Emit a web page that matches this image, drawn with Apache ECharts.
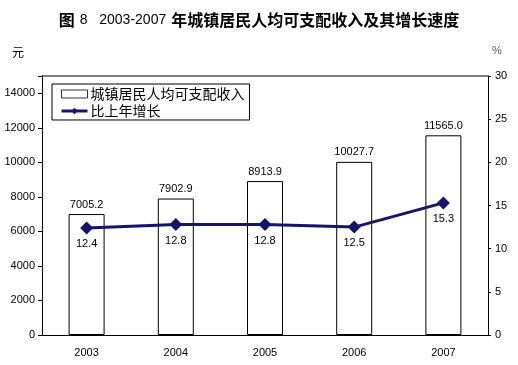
<!DOCTYPE html>
<html><head><meta charset="utf-8">
<script src="https://cdn.jsdelivr.net/npm/echarts@6/dist/echarts.min.js"></script>
<style>html,body{margin:0;padding:0;background:#fff}#c{width:518px;height:365px}</style>
</head><body><div id="c"></div>
<script>
const years = ['2003','2004','2005','2006','2007'];
const income = [7005.2, 7902.9, 8913.9, 10027.7, 11565.0];
const growth = [12.4, 12.8, 12.8, 12.5, 15.3];
const incomeName = '城镇居民人均可支配收入';
const growthName = '比上年增长';

const chart = echarts.init(document.getElementById('c'));
const F = 'Liberation Sans, Arial, sans-serif';
chart.setOption({
  animation: false,
  backgroundColor: '#fff',
  title: {
    text: '{b|图} {n|8   2003-2007} {b|年城镇居民人均可支配收入及其增长速度}',
    left: 'center', top: 6,
    textStyle: {
      rich: {
        b: {fontSize: 16, fontWeight: 'bold', fontFamily: 'Noto Sans CJK SC', color: '#000'},
        n: {fontSize: 14, fontWeight: 'normal', fontFamily: F, color: '#000'}
      }
    }
  },
  legend: {
    orient: 'vertical', left: 52, top: 84,
    itemWidth: 26, itemHeight: 8, itemGap: 3,
    padding: [3, 5, 2, 8],
    borderColor: '#000', borderWidth: 1, backgroundColor: '#fff',
    textStyle: {fontSize: 14, fontFamily: 'Noto Sans CJK SC', color: '#000', padding: [0, 0, 0, -2]},
    data: [
      {name: incomeName, icon: 'rect', itemStyle: {borderWidth: 0.8, borderColor: '#000', color: '#fff'}},
      {name: growthName, lineStyle: {width: 3}}
    ]
  },
  grid: {left: 42, right: 30, top: 76, bottom: 30, show: false},
  xAxis: {
    type: 'category', data: years,
    axisLine: {lineStyle: {color: '#000', width: 1}},
    axisTick: {inside: true, length: 5, lineStyle: {color: '#000'}},
    axisLabel: {fontSize: 11, fontFamily: F, color: '#000', margin: 12}
  },
  yAxis: [
    {
      type: 'value', min: 0, max: 15000, interval: 2000,
      name: '元', nameLocation: 'end', nameGap: 0,
      nameTextStyle: {fontSize: 12, fontFamily: 'Noto Sans CJK SC', color: '#000', align: 'left', padding: [0, 0, 18, -30]},
      axisLine: {show: true, lineStyle: {color: '#000'}},
      axisTick: {show: true, length: 4, lineStyle: {color: '#000'}},
      axisLabel: {fontSize: 11, fontFamily: F, color: '#000', margin: 7,
        formatter: v => v > 14000 ? '' : String(v)},
      splitLine: {show: false}
    },
    {
      type: 'value', min: 0, max: 30, interval: 5,
      name: '%', nameLocation: 'end', nameGap: 0,
      nameTextStyle: {fontSize: 11, fontFamily: F, color: '#555', align: 'left', padding: [0, 0, 20, 4]},
      axisLine: {show: true, lineStyle: {color: '#000'}},
      axisTick: {show: true, length: 3, lineStyle: {color: '#000'}},
      axisLabel: {fontSize: 11, fontFamily: F, color: '#000', margin: 7},
      splitLine: {show: false}
    }
  ],
  series: [
    {
      name: incomeName, type: 'bar', data: income, barWidth: 36,
      itemStyle: {color: '#fff', borderColor: '#000', borderWidth: 1},
      label: {show: true, position: 'top', distance: 4, fontSize: 11, fontFamily: F, color: '#000',
        formatter: p => p.value.toFixed(1)}
    },
    {
      name: growthName, type: 'line', yAxisIndex: 1, data: growth,
      symbol: 'diamond', symbolSize: 13,
      lineStyle: {color: '#14146e', width: 3},
      itemStyle: {color: '#14146e'},
      label: {show: true, position: 'bottom', distance: 4, fontSize: 11, fontFamily: F, color: '#000',
        formatter: p => p.value.toFixed(1)}
    }
  ]
});
const rect = chart.getModel().getComponent('grid', 0).coordinateSystem.getRect();
chart.setOption({graphic: [{type: 'line', shape: {x1: rect.x, y1: rect.y, x2: rect.x + rect.width, y2: rect.y},
  style: {stroke: '#000', lineWidth: 1}}]});
</script></body></html>
